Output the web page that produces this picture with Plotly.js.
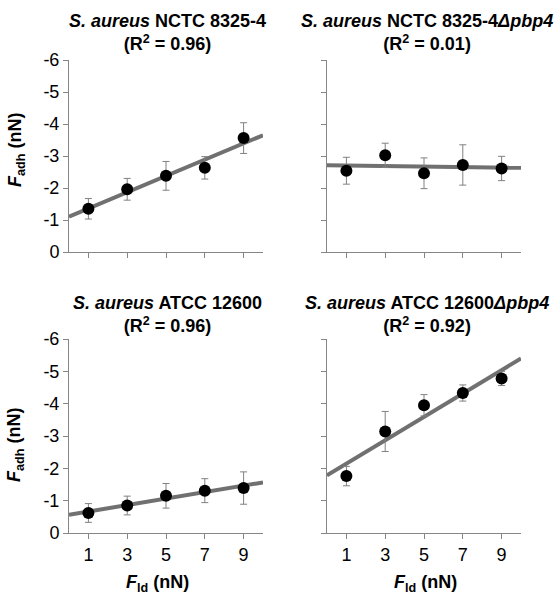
<!DOCTYPE html>
<html>
<head>
<meta charset="utf-8">
<script src="https://cdn.plot.ly/plotly-3.0.1.min.js"></script>
<style>html,body{margin:0;padding:0;background:#fff;}#chart{width:554px;height:596px;}</style>
</head>
<body>
<div id="chart"></div>
<script>
// Data
const forceLoad = [1, 3, 5, 7, 9];
const adhNCTC = [-1.35, -1.96, -2.38, -2.63, -3.56];
const errNCTC = [0.32, 0.34, 0.45, 0.35, 0.48];
const adhNCTCpbp4 = [-2.54, -3.02, -2.46, -2.72, -2.61];
const errNCTCpbp4 = [0.42, 0.38, 0.48, 0.63, 0.38];
const adhATCC = [-0.62, -0.85, -1.15, -1.31, -1.39];
const errATCC = [0.29, 0.29, 0.38, 0.37, 0.50];
const adhATCCpbp4 = [-1.76, -3.14, -3.95, -4.33, -4.78];
const errATCCpbp4 = [0.30, 0.62, 0.33, 0.25, 0.22];
const xTicks = [1, 3, 5, 7, 9];
const yTicks = [0, -1, -2, -3, -4, -5, -6];
const panelTitles = [
  "<b><i>S. aureus</i> NCTC 8325-4<br>(R<sup>2</sup> = 0.96)</b>",
  "<b><i>S. aureus</i> NCTC 8325-4<i>Δpbp4</i><br>(R<sup>2</sup> = 0.01)</b>",
  "<b><i>S. aureus</i> ATCC 12600<br>(R<sup>2</sup> = 0.96)</b>",
  "<b><i>S. aureus</i> ATCC 12600<i>Δpbp4</i><br>(R<sup>2</sup> = 0.92)</b>"
];
const yTitle = "<b><i>F</i><sub>adh</sub> (nN)</b>";
const xTitle = "<b><i>F</i><sub>ld</sub> (nN)</b>";
const fitRange = [0, 10];

function fit(xs, ys) {
  const n = xs.length;
  const mx = xs.reduce((a, b) => a + b, 0) / n;
  const my = ys.reduce((a, b) => a + b, 0) / n;
  let sxy = 0, sxx = 0;
  for (let i = 0; i < n; i++) { sxy += (xs[i] - mx) * (ys[i] - my); sxx += (xs[i] - mx) ** 2; }
  const b = sxy / sxx, a = my - b * mx;
  return fitRange.map(x => a + b * x);
}

const series = [
  [adhNCTC, errNCTC, 'x', 'y'],
  [adhNCTCpbp4, errNCTCpbp4, 'x2', 'y2'],
  [adhATCC, errATCC, 'x3', 'y3'],
  [adhATCCpbp4, errATCCpbp4, 'x4', 'y4']
];

const traces = [];
series.forEach(([ys, es, xa, ya]) => {
  traces.push({
    x: fitRange, y: fit(forceLoad, ys), xaxis: xa, yaxis: ya,
    mode: 'lines', line: {color: '#707070', width: 4}, hoverinfo: 'skip', showlegend: false
  });
  traces.push({
    x: forceLoad, y: ys, xaxis: xa, yaxis: ya, mode: 'markers',
    marker: {color: '#000', size: 12},
    error_y: {type: 'data', array: es, visible: true, color: '#808080', thickness: 1, width: 3.5},
    showlegend: false
  });
});

const font = {family: 'Liberation Sans, Arial, sans-serif', size: 18, color: '#000'};
const H = 596, W = 554;
const px = v => v / W, py = v => 1 - v / H;

function xaxis(dom, labels) {
  return {domain: dom, range: [0, 10], tickvals: xTicks, ticktext: xTicks.map(String),
    showticklabels: labels, ticks: 'outside', ticklen: 5, tickcolor: '#868686', tickwidth: 1,
    showline: true, linecolor: '#868686', linewidth: 1, showgrid: false, zeroline: false,
    tickfont: font, fixedrange: true};
}
function yaxis(dom, labels) {
  return {domain: dom, range: [0, -6], tickvals: yTicks, ticktext: yTicks.map(String),
    showticklabels: labels, ticks: 'outside', ticklen: 5, tickcolor: '#868686', tickwidth: 1,
    showline: true, linecolor: '#868686', linewidth: 1, showgrid: false, zeroline: false,
    tickfont: font, fixedrange: true};
}

const dxL = [px(69), px(263)], dxR = [px(327), px(521)];
const dyT = [py(252), py(60)], dyB = [py(533), py(339)];

const ann = (text, x, y, extra) => Object.assign({text, x, y, xref: 'paper', yref: 'paper',
  showarrow: false, xanchor: 'center', yanchor: 'middle', font}, extra || {});

const layout = {
  width: W, height: H, margin: {l: 0, r: 0, t: 0, b: 0},
  paper_bgcolor: '#fff', plot_bgcolor: 'rgba(0,0,0,0)', font, showlegend: false,
  xaxis: Object.assign(xaxis(dxL, false), {anchor: 'y'}),
  yaxis: Object.assign(yaxis(dyT, true), {anchor: 'x'}),
  xaxis2: Object.assign(xaxis(dxR, false), {anchor: 'y2'}),
  yaxis2: Object.assign(yaxis(dyT, false), {anchor: 'x2'}),
  xaxis3: Object.assign(xaxis(dxL, true), {anchor: 'y3'}),
  yaxis3: Object.assign(yaxis(dyB, true), {anchor: 'x3'}),
  xaxis4: Object.assign(xaxis(dxR, true), {anchor: 'y4'}),
  yaxis4: Object.assign(yaxis(dyB, false), {anchor: 'x4'}),
  annotations: [
    ann(panelTitles[0], px(167), py(33)),
    ann(panelTitles[1], px(427), py(33)),
    ann(panelTitles[2], px(167), py(314)),
    ann(panelTitles[3], px(427), py(314)),
    ann(yTitle, px(16), py(150), {textangle: -90}),
    ann(yTitle, px(16), py(445), {textangle: -90}),
    ann(xTitle, px(157), py(583)),
    ann(xTitle, px(425), py(583))
  ]
};

Plotly.newPlot('chart', traces, layout, {staticPlot: true, displayModeBar: false});
</script>
</body>
</html>
